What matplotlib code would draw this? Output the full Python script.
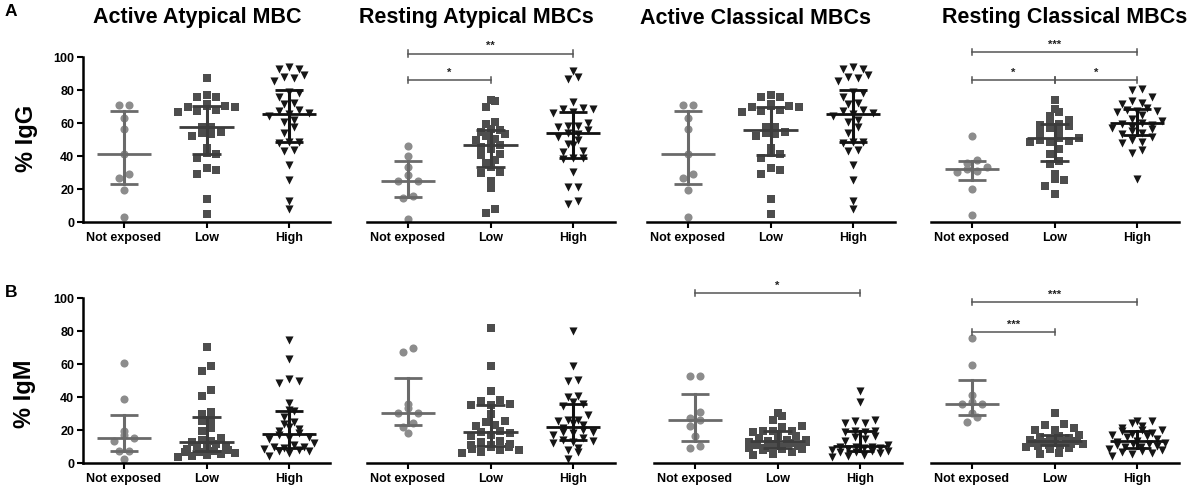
import numpy as np
import matplotlib
matplotlib.use("Agg")
import matplotlib.pyplot as plt

plt.rcParams['font.family'] = ['Liberation Sans', 'DejaVu Sans']
plt.rcParams['font.weight'] = 'bold'

groups = ['Not exposed', 'Low', 'High']
titles = ['Active Atypical MBC', 'Resting Atypical MBCs',
          'Active Classical MBCs', 'Resting Classical MBCs']
yticks = [0, 20, 40, 60, 80, 100]

# ---- % IgG (row A) ----
igg_aa_ne = [71.2, 71.2, 63.2, 56.1, 41.0, 29.2, 26.6, 19.3, 3.0]
igg_aa_low = [87.3, 77.1, 75.9, 75.5, 71.4, 70.4, 70.2, 69.8, 69.4, 67.8, 67.4, 66.6,
              57.5, 57.3, 54.7, 53.7, 53.1, 51.9, 44.7, 41.6, 41.4, 38.8, 32.6, 31.8,
              28.8, 14.1, 4.8]
igg_aa_high = [94.0, 93.0, 92.7, 88.9, 87.7, 87.5, 85.5, 78.5, 77.9, 75.5, 71.9, 71.4,
               67.8, 67.4, 65.8, 65.2, 64.5, 62.0, 60.4, 57.3, 54.1, 48.7, 48.3, 48.1,
               43.7, 43.3, 34.6, 25.4, 12.5, 7.8]

igg_ra_ne = [46.1, 40.0, 33.6, 28.2, 24.9, 24.9, 15.5, 14.5, 1.8]
igg_ra_low = [73.8, 73.4, 69.8, 60.8, 59.4, 56.5, 55.7, 54.7, 53.1, 52.0, 50.3, 49.5,
              48.5, 46.7, 45.5, 44.5, 41.5, 40.8, 37.5, 35.5, 33.6, 30.2, 29.8, 25.0,
              20.5, 7.9, 5.4]
igg_ra_high = [91.3, 87.9, 86.9, 72.8, 68.8, 68.6, 68.2, 66.5, 66.0, 60.0, 58.2, 58.0,
               57.8, 55.5, 54.0, 53.4, 51.7, 49.5, 47.3, 46.5, 42.9, 42.7, 39.0, 38.5,
               38.3, 30.6, 21.5, 21.1, 12.5, 11.1]

igg_ac_ne = [71.2, 71.2, 63.2, 56.1, 41.0, 29.2, 26.6, 19.3, 3.0]
igg_ac_low = [77.1, 75.9, 75.5, 71.4, 70.4, 70.2, 69.8, 69.4, 67.8, 67.4, 66.6, 57.5,
              57.3, 54.7, 53.7, 53.1, 51.9, 44.7, 41.6, 41.4, 38.8, 32.6, 31.8, 28.8,
              14.1, 4.8]
igg_ac_high = [94.0, 93.0, 92.7, 88.9, 87.7, 87.5, 85.5, 78.5, 77.9, 75.5, 71.9, 71.4,
               67.8, 67.4, 65.8, 65.2, 64.5, 62.0, 60.4, 57.3, 54.1, 48.7, 48.3, 48.1,
               43.7, 43.3, 34.6, 25.4, 12.5, 7.8]

igg_rc_ne = [52.1, 37.6, 36.0, 33.4, 32.2, 31.2, 30.5, 19.9, 4.0]
igg_rc_low = [74.2, 68.4, 66.8, 64.4, 61.8, 60.2, 59.2, 58.8, 58.0, 57.1, 55.5, 54.7,
              51.1, 51.0, 49.7, 49.3, 48.7, 48.3, 44.1, 41.0, 37.2, 35.0, 29.2, 26.0,
              25.6, 22.1, 17.1]
igg_rc_high = [80.5, 80.0, 75.5, 73.4, 72.2, 71.8, 69.0, 68.0, 67.5, 67.2, 66.5, 65.0,
               62.5, 61.0, 60.2, 59.4, 58.8, 57.8, 57.2, 56.5, 55.0, 54.0, 53.2, 51.5,
               49.5, 48.5, 47.8, 43.7, 42.0, 26.0]

# ---- % IgM (row B) ----
igm_aa_ne = [60.4, 38.6, 19.5, 16.7, 15.1, 13.1, 7.4, 7.4, 2.4]
igm_aa_low = [70.4, 58.8, 55.9, 44.3, 40.8, 30.8, 29.8, 26.2, 25.5, 21.5, 19.5, 15.1,
              14.0, 13.2, 12.7, 11.5, 10.2, 9.5, 8.8, 8.2, 7.6, 7.2, 6.9, 6.5, 6.0,
              5.5, 5.0, 4.3, 3.8]
igm_aa_high = [74.8, 63.0, 50.7, 49.7, 48.3, 36.6, 32.2, 31.5, 28.0, 25.0, 23.7, 22.1,
               20.5, 19.5, 18.0, 17.0, 16.0, 15.2, 14.5, 12.0, 11.0, 10.0, 9.5, 9.0,
               8.5, 8.0, 7.5, 7.0, 6.0, 4.5]

igm_ra_ne = [69.4, 67.4, 35.6, 33.6, 30.6, 30.2, 24.5, 22.1, 18.1]
igm_ra_low = [82.1, 58.8, 43.9, 38.2, 37.8, 35.8, 35.4, 35.0, 29.6, 25.2, 25.0, 23.1,
              22.7, 19.5, 18.6, 18.4, 17.1, 16.5, 13.1, 12.5, 11.7, 11.2, 10.8, 10.0,
              9.5, 8.4, 8.0, 7.6, 6.8, 6.2]
igm_ra_high = [79.9, 58.8, 50.3, 49.9, 40.6, 40.2, 36.8, 35.8, 34.5, 28.8, 26.2, 25.8,
               25.4, 24.0, 23.0, 21.2, 20.0, 19.0, 18.6, 18.0, 17.2, 15.0, 13.8, 13.5,
               12.8, 12.0, 8.8, 8.0, 6.6, 2.6]

igm_ac_ne = [52.7, 52.7, 30.8, 27.2, 25.8, 22.5, 16.1, 10.1, 9.1]
igm_ac_low = [30.6, 28.6, 26.2, 22.5, 21.7, 19.5, 19.3, 19.1, 18.8, 16.5, 16.2, 15.0,
              14.2, 13.8, 13.3, 12.9, 12.5, 12.0, 11.5, 11.0, 10.5, 10.0, 9.2, 8.8,
              8.5, 8.2, 7.8, 6.5, 5.5, 4.8]
igm_ac_high = [43.9, 37.2, 25.8, 25.6, 24.5, 24.3, 19.5, 19.2, 18.9, 18.5, 16.2, 15.8,
               14.5, 13.5, 11.2, 10.0, 9.8, 9.5, 9.2, 8.8, 8.4, 8.0, 7.5, 7.2, 6.8,
               6.4, 5.8, 4.8, 4.2, 3.6]

igm_rc_ne = [75.5, 59.4, 41.2, 36.8, 36.0, 35.6, 30.2, 27.6, 24.7]
igm_rc_low = [30.2, 23.7, 23.3, 21.5, 20.1, 19.8, 16.7, 16.2, 15.5, 15.0, 14.2, 13.8,
              13.5, 13.1, 12.8, 12.5, 12.2, 11.8, 11.5, 11.2, 10.8, 10.5, 9.8, 9.2,
              8.6, 5.8, 5.4]
igm_rc_high = [25.6, 25.2, 24.5, 22.5, 21.5, 20.1, 19.8, 19.5, 18.2, 17.5, 17.0, 16.5,
               15.5, 14.5, 13.5, 12.8, 12.2, 11.8, 11.5, 11.0, 10.5, 10.0, 9.5, 8.5,
               7.8, 7.2, 6.5, 6.0, 5.5, 4.0]

panels = [
    [[igg_aa_ne, igg_aa_low, igg_aa_high], [igg_ra_ne, igg_ra_low, igg_ra_high],
     [igg_ac_ne, igg_ac_low, igg_ac_high], [igg_rc_ne, igg_rc_low, igg_rc_high]],
    [[igm_aa_ne, igm_aa_low, igm_aa_high], [igm_ra_ne, igm_ra_low, igm_ra_high],
     [igm_ac_ne, igm_ac_low, igm_ac_high], [igm_rc_ne, igm_rc_low, igm_rc_high]],
]

# significance bars: (row, col, group a, group b, height, label)
sig = [
    (0, 1, 0, 1, 86, '*'), (0, 1, 0, 2, 102, '**'),
    (0, 3, 0, 1, 86, '*'), (0, 3, 1, 2, 86, '*'), (0, 3, 0, 2, 103, '***'),
    (1, 2, 0, 2, 103, '*'),
    (1, 3, 0, 1, 79.5, '***'), (1, 3, 0, 2, 97.5, '***'),
]

markers = ['o', 's', 'v']
mcolors = ['#8c8c8c', '#4d4d4d', '#161616']
lcolors = ['#6a6a6a', '#3c3c3c', '#111111']
msizes = [34, 30, 34]


def swarm(vals, step=0.12, row=4.0, maxhalf=0.34):
    vals = np.asarray(vals, float)
    order = np.argsort(vals)
    xs = np.zeros(len(vals))
    rows, cur = [], [order[0]]
    for i in order[1:]:
        if vals[i] - vals[cur[0]] < row:
            cur.append(i)
        else:
            rows.append(cur)
            cur = [i]
    rows.append(cur)
    for r in rows:
        k = len(r)
        s = step if k < 2 else min(step, 2 * maxhalf / (k - 1))
        # spread the sorted values alternately so the row does not form a ramp
        slots = list(range(0, k, 2)) + list(range(1, k, 2))
        for j, i in zip(slots, r):
            xs[i] = (j - (k - 1) / 2) * s
    return xs


fig = plt.figure(figsize=(11.92, 4.86), dpi=100)
W, H = 1192.0, 486.0
lefts = [[82.5, 366.5, 646.5, 930.5], [82.5, 366.5, 653.5, 930.5]]
tops = [57, 298]
axw, axh = 248.0, 165.0

for r in range(2):
    for c in range(4):
        ax = fig.add_axes([lefts[r][c] / W, 1 - (tops[r] + axh) / H, axw / W, axh / H])
        for g in range(3):
            v = np.asarray(panels[r][c][g], float)
            x = g + swarm(v)
            ax.scatter(x, v, marker=markers[g], s=msizes[g], color=mcolors[g],
                       linewidths=0, zorder=2, clip_on=False)
            med = np.median(v)
            q1, q3 = np.percentile(v, [25, 75], method='weibull')
            lc = lcolors[g]
            ax.plot([g - 0.33, g + 0.33], [med, med], color=lc, lw=2.0, zorder=3,
                    solid_capstyle='butt')
            ax.plot([g, g], [q1, q3], color=lc, lw=2.2, zorder=3)
            for q in (q1, q3):
                ax.plot([g - 0.17, g + 0.17], [q, q], color=lc, lw=2.0, zorder=3,
                        solid_capstyle='butt')
        for (rr, cc, a, b, h, lab) in sig:
            if rr == r and cc == c:
                ax.plot([a, b], [h, h], color='#555555', lw=1.1, clip_on=False)
                for xe in (a, b):
                    ax.plot([xe, xe], [h - 2, h + 2], color='#555555', lw=1.1,
                            clip_on=False)
                ax.text((a + b) / 2, h + 1.5, lab, ha='center', va='bottom',
                        fontsize=8, color='#222222', fontweight='bold')
        ax.set_xlim(-0.5, 2.5)
        ax.set_ylim(0, 100)
        ax.set_xticks([0, 1, 2])
        ax.set_xticklabels(groups, fontsize=9, fontweight='bold')
        ax.tick_params(axis='x', length=4, width=1.5, pad=3)
        for s in ('top', 'right'):
            ax.spines[s].set_visible(False)
        ax.spines['bottom'].set_linewidth(1.8)
        if c == 0:
            ax.spines['left'].set_linewidth(1.8)
            ax.set_yticks(yticks)
            ax.set_yticklabels([str(t) for t in yticks], fontsize=9, fontweight='bold')
            ax.tick_params(axis='y', length=4, width=1.5, pad=2)
        else:
            ax.spines['left'].set_visible(False)
            ax.set_yticks([])
        ax.patch.set_alpha(0)

title_x = [197, 476, 756, 1065]
for c in range(4):
    fig.text(title_x[c] / W, 1 - 18 / H, titles[c], ha='center', va='center',
             fontsize=15.5, fontweight='bold')

fig.text(11 / W, 1 - 12 / H, 'A', ha='center', va='center', fontsize=12.5, fontweight='bold')
fig.text(11 / W, 1 - 292 / H, 'B', ha='center', va='center', fontsize=12.5, fontweight='bold')
fig.text(26 / W, 1 - 138 / H, '% IgG', rotation=90, ha='center', va='center',
         fontsize=17, fontweight='bold')
fig.text(24 / W, 1 - 394 / H, '% IgM', rotation=90, ha='center', va='center',
         fontsize=17, fontweight='bold')

fig.savefig('out.png', dpi=100)
